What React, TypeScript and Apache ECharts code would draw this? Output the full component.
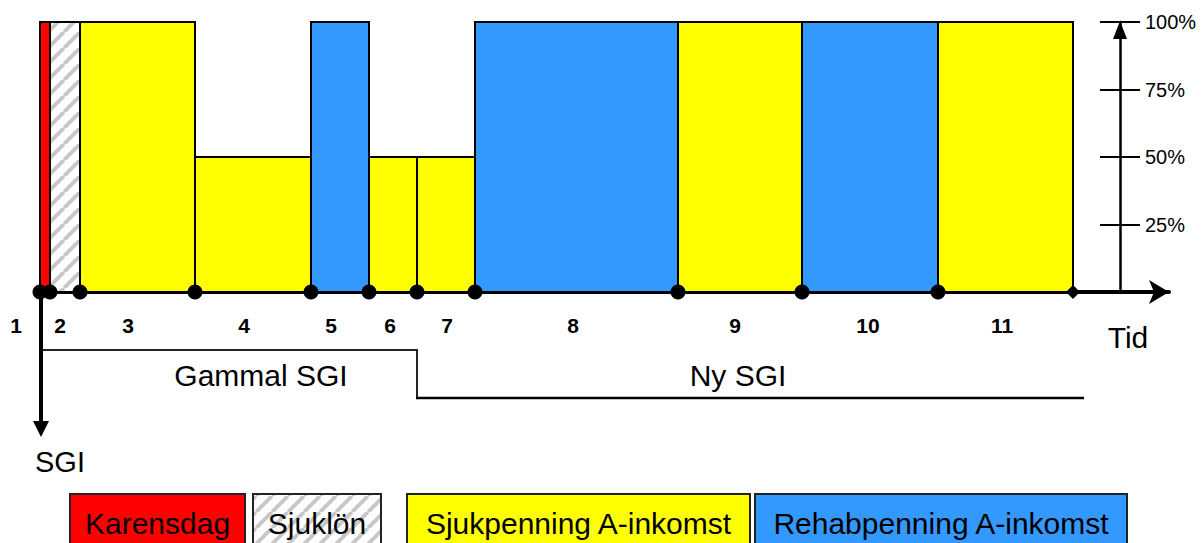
import React, { useEffect, useRef } from "react";
import * as echarts from "echarts";

// ---- data ----
const periodNames = ["1", "2", "3", "4", "5", "6", "7", "8", "9", "10", "11"];
const periodStart = [0, 10, 40, 155, 271, 329, 377, 435, 638, 762, 898];
const periodEnd = [10, 40, 155, 271, 329, 377, 435, 638, 762, 898, 1033];
const periodLevel = [100, 100, 100, 50, 100, 50, 50, 100, 100, 100, 100];
const periodType = [0, 1, 2, 2, 3, 2, 2, 3, 2, 3, 2];
const labelPos = [-24, 20, 88, 204, 291, 350, 407, 533, 695, 828, 962];
const legendNames = ["Karensdag", "Sjuklön", "Sjukpenning A-inkomst", "Rehabpenning A-inkomst"];
const sgiNames = ["Gammal SGI", "Ny SGI"];
const percentTicks = [0, 25, 50, 75, 100];

const FONT = '"Liberation Sans", Arial, sans-serif';

function makeHatch() {
  const s = 16;
  const c = document.createElement("canvas");
  c.width = s;
  c.height = s;
  const ctx = c.getContext("2d")!;
  ctx.fillStyle = "#ffffff";
  ctx.fillRect(0, 0, s, s);
  ctx.strokeStyle = "#c8c8c8";
  ctx.lineWidth = 4;
  for (let k = -1; k <= 1; k++) {
    ctx.beginPath();
    ctx.moveTo(k * s, s);
    ctx.lineTo(k * s + s, 0);
    ctx.stroke();
  }
  return c;
}

function txt(x: number, y: number, text: string, size: number, weight = "normal") {
  return {
    type: "text",
    x,
    y,
    z: 10,
    style: { text, fontSize: size, fontWeight: weight, fontFamily: FONT, fill: "#000", align: "center", verticalAlign: "middle" },
  };
}

export default function App() {
  const ref = useRef<HTMLDivElement>(null);
  useEffect(() => {
    document.body.style.margin = "0";
    const chart = echarts.init(ref.current!, null, { renderer: "svg" });
    const hatch = { image: makeHatch(), repeat: "repeat" };
    const fills: any[] = ["#ff0000", hatch, "#ffff00", "#3399ff"];

    const barData = periodNames.map((n, i) => [periodStart[i], periodEnd[i], periodLevel[i], periodType[i]]);
    const bounds = [...periodStart, periodEnd[periodEnd.length - 1]];
    const dotData = bounds.map((b, i) => ({
      value: [b, 0],
      symbol: i === bounds.length - 1 ? "diamond" : "circle",
      symbolSize: i === bounds.length - 1 ? 14 : 15,
    }));
    const labelData = periodNames.map((n, i) => [labelPos[i], 0, n]);

    const legendBoxes = [
      { x: 70, w: 175 },
      { x: 253, w: 128 },
      { x: 407, w: 343 },
      { x: 755, w: 372 },
    ];

    const graphic: any[] = [
      // downward SGI axis
      { type: "line", shape: { x1: 41, y1: 292, x2: 41, y2: 424 }, style: { stroke: "#000", lineWidth: 4 }, z: 10 },
      { type: "polygon", shape: { points: [[33, 421], [49, 421], [41, 437]] }, style: { fill: "#000" }, z: 10 },
      // upward percent axis arrow head
      { type: "polygon", shape: { points: [[1113, 39], [1127, 39], [1120, 21]] }, style: { fill: "#000" }, z: 10 },
      txt(60, 462, "SGI", 29),
      txt(1128, 337, "Tid", 30),
      // SGI step line
      { type: "polyline", shape: { points: [[43, 350], [417, 350], [417, 398]] }, style: { stroke: "#222", lineWidth: 2, fill: null } },
      { type: "line", shape: { x1: 416, y1: 398, x2: 1084, y2: 398 }, style: { stroke: "#000", lineWidth: 2.5 } },
      txt(261, 375, sgiNames[0], 30),
      txt(738, 375, sgiNames[1], 30),
    ];
    legendNames.forEach((name, i) => {
      const b = legendBoxes[i];
      graphic.push({
        type: "rect",
        shape: { x: b.x, y: 494, width: b.w, height: 52 },
        style: { fill: fills[i], stroke: "#222", lineWidth: 2 },
      });
      graphic.push(txt(b.x + b.w / 2, 523, name, 30));
    });

    chart.setOption({
      animation: false,
      grid: { left: 40, right: 33, top: 22, bottom: 251, containLabel: false },
      xAxis: {
        type: "value",
        min: 0,
        max: 1129,
        axisLine: { show: true, lineStyle: { color: "#000", width: 4 }, symbol: ["none", "arrow"], symbolSize: [18, 20] },
        axisTick: { show: false },
        axisLabel: { show: false },
        splitLine: { show: false },
      },
      yAxis: [
        { type: "value", min: 0, max: 100, show: false },
        {
          type: "value",
          min: 0,
          max: 100,
          interval: 25,
          position: "right",
          offset: -49,
          axisLine: { show: true, lineStyle: { color: "#000", width: 2.5 } },
          axisTick: { show: true, inside: true, length: 20, lineStyle: { color: "#000", width: 2 } },
          axisLabel: {
            show: true,
            margin: 25,
            color: "#000",
            fontSize: 20,
            fontFamily: FONT,
            formatter: (v: number) => (percentTicks.indexOf(v) > 0 ? v + "%" : ""),
          },
          splitLine: { show: false },
        },
        {
          type: "value",
          min: 0,
          max: 100,
          interval: 25,
          position: "right",
          offset: -49,
          axisLine: { show: false },
          axisTick: { show: true, inside: false, length: 20, lineStyle: { color: "#000", width: 2 } },
          axisLabel: { show: false },
          splitLine: { show: false },
        },
      ],
      series: [
        {
          type: "custom",
          clip: false,
          z: 2,
          data: barData,
          encode: { x: [0, 1], y: 2 },
          renderItem: (params: any, api: any) => {
            const s = api.value(0), e = api.value(1), v = api.value(2), t = api.value(3);
            const p0 = api.coord([s, v]);
            const p1 = api.coord([e, 0]);
            return {
              type: "rect",
              shape: { x: p0[0], y: p0[1], width: p1[0] - p0[0], height: p1[1] - p0[1] },
              style: { fill: fills[t], stroke: "#000", lineWidth: 2 },
            };
          },
        },
        {
          type: "scatter",
          clip: false,
          z: 5,
          data: dotData,
          itemStyle: { color: "#000", opacity: 1 },
        },
        {
          type: "custom",
          clip: false,
          z: 5,
          data: labelData,
          encode: { x: 0, y: 1 },
          renderItem: (params: any, api: any) => {
            const p = api.coord([api.value(0), 0]);
            return {
              type: "text",
              x: p[0],
              y: p[1] + 33,
              style: {
                text: periodNames[params.dataIndex],
                fontSize: 21,
                fontWeight: "bold",
                fontFamily: FONT,
                fill: "#000",
                align: "center",
                verticalAlign: "middle",
              },
            };
          },
        },
      ],
      graphic,
    });
    return () => chart.dispose();
  }, []);
  return <div ref={ref} style={{ width: 1202, height: 543 }} />;
}
